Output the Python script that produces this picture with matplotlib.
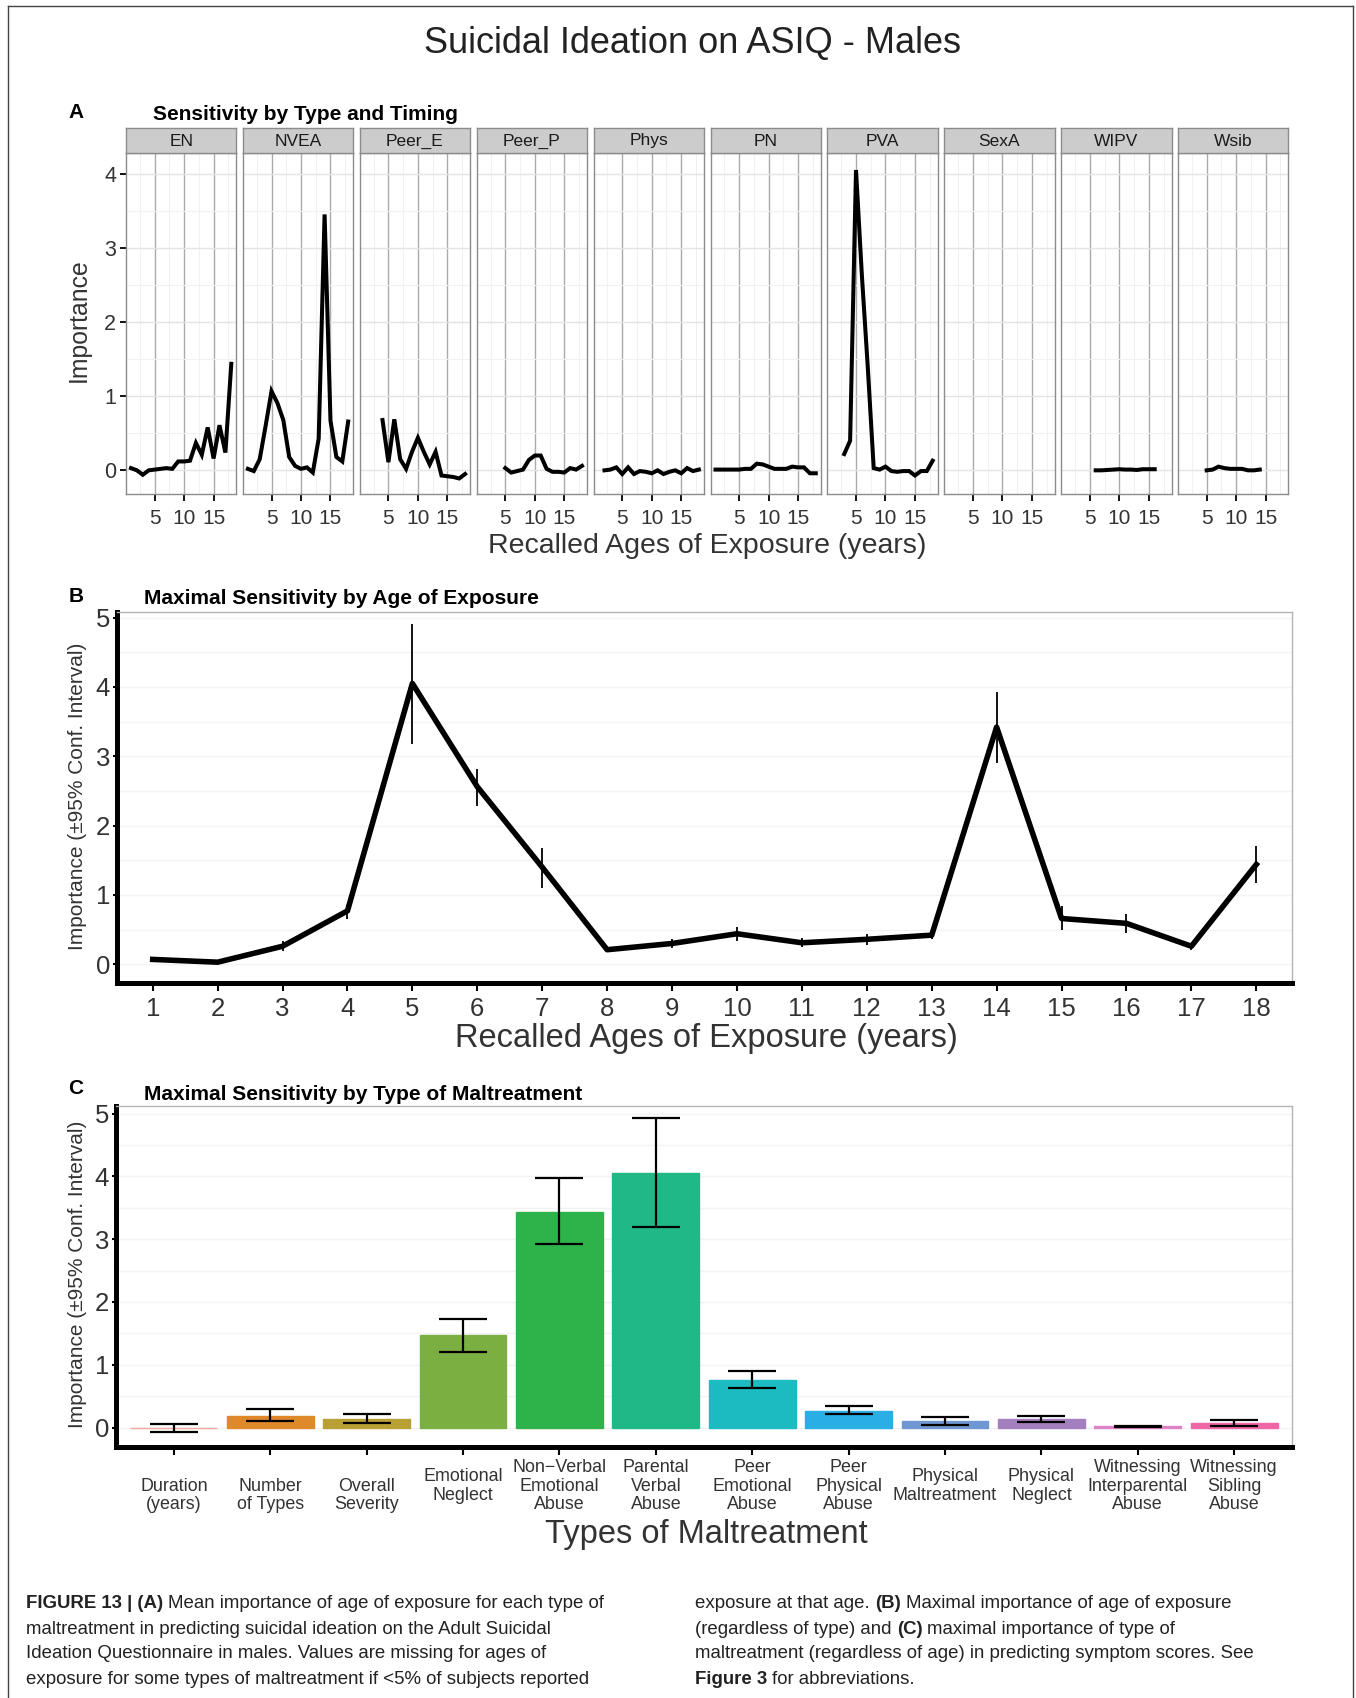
import numpy as np
import matplotlib
matplotlib.use("Agg")
import matplotlib.pyplot as plt
from matplotlib.lines import Line2D

plt.rcParams['font.family'] = ['Liberation Sans', 'DejaVu Sans']

W, H = 1356, 1698

# ---- panel A: mean importance by age, one facet per maltreatment type
facet_names = ['EN', 'NVEA', 'Peer_E', 'Peer_P', 'Phys', 'PN', 'PVA', 'SexA', 'WIPV', 'Wsib']
facet_first_age = [1, 1, 4, 5, 2, 1, 3, 0, 6, 5]
en_imp = [0.02, -0.01, -0.07, -0.01, 0.0, 0.01, 0.02, 0.01, 0.11, 0.11, 0.12, 0.36,
          0.20, 0.57, 0.15, 0.60, 0.23, 1.43]
nvea_imp = [0.01, -0.02, 0.14, 0.59, 1.06, 0.90, 0.67, 0.17, 0.05, 0.01, 0.03, -0.04,
            0.42, 3.45, 0.66, 0.17, 0.11, 0.65]
peer_e_imp = [0.67, 0.10, 0.68, 0.14, 0.01, 0.24, 0.43, 0.24, 0.07, 0.24, -0.08, -0.09,
              -0.10, -0.12, -0.06]
peer_p_imp = [0.02, -0.04, -0.02, 0.0, 0.13, 0.19, 0.19, 0.01, -0.03, -0.03, -0.04, 0.02,
              0.0, 0.05]
phys_imp = [-0.01, 0.0, 0.03, -0.06, 0.03, -0.06, -0.02, -0.03, -0.05, -0.01, -0.06,
            -0.03, -0.01, -0.05, 0.02, -0.02, 0.0]
pn_imp = [0.0, 0.0, 0.0, 0.0, 0.0, 0.01, 0.01, 0.08, 0.07, 0.04, 0.01, 0.01, 0.01, 0.04,
          0.03, 0.03, -0.05, -0.05]
pva_imp = [0.21, 0.39, 4.05, 2.62, 1.38, 0.02, 0.0, 0.04, -0.02, -0.03, -0.02, -0.02,
           -0.08, -0.02, -0.02, 0.12]
sexa_imp = []
wipv_imp = [-0.01, -0.01, -0.005, 0.0, 0.005, 0.0, 0.0, -0.005, 0.005, 0.005, 0.005]
wsib_imp = [-0.01, 0.0, 0.04, 0.02, 0.01, 0.01, 0.01, -0.01, -0.01, 0.0]

# ---- panel B: maximal importance by age
ages = np.arange(1, 19)
age_max = np.array([0.07, 0.03, 0.26, 0.77, 4.05, 2.56, 1.40, 0.21, 0.30, 0.44, 0.31,
                    0.36, 0.42, 3.42, 0.66, 0.59, 0.26, 1.44])
age_lo = np.array([0.05, 0.01, 0.19, 0.66, 3.17, 2.28, 1.10, 0.17, 0.24, 0.34, 0.25,
                   0.28, 0.36, 2.90, 0.50, 0.45, 0.21, 1.17])
age_hi = np.array([0.09, 0.05, 0.33, 0.86, 4.90, 2.82, 1.68, 0.26, 0.37, 0.54, 0.38,
                   0.43, 0.48, 3.92, 0.84, 0.73, 0.31, 1.71])

# ---- panel C: maximal importance by type
type_labels = ['\nDuration\n(years)', '\nNumber\nof Types', '\nOverall\nSeverity',
               'Emotional\nNeglect', 'Non\u2212Verbal\nEmotional\nAbuse',
               'Parental\nVerbal\nAbuse', 'Peer\nEmotional\nAbuse', 'Peer\nPhysical\nAbuse',
               'Physical\nMaltreatment', 'Physical\nNeglect',
               'Witnessing\nInterparental\nAbuse', 'Witnessing\nSibling\nAbuse']
type_max = np.array([-0.005, 0.18, 0.14, 1.47, 3.44, 4.06, 0.76, 0.27, 0.10, 0.13, 0.02, 0.075])
type_lo = np.array([-0.065, 0.10, 0.075, 1.20, 2.92, 3.19, 0.63, 0.21, 0.04, 0.09, 0.01, 0.03])
type_hi = np.array([0.05, 0.29, 0.22, 1.73, 3.97, 4.93, 0.90, 0.35, 0.17, 0.18, 0.03, 0.12])
type_colors = ['#F4A6A0', '#E0892B', '#B9A034', '#7CAF42', '#2DB34A', '#21B887',
               '#1CBAC1', '#29AFE3', '#6F97D1', '#A37FC0', '#DC84C6', '#EF66A6']

TXT = '#333333'


def box(l, t, r, b):
    return [l / W, 1 - b / H, (r - l) / W, (b - t) / H]


def ftext(x, y, s, **kw):
    return fig.text(x / W, 1 - y / H, s, **kw)


fig = plt.figure(figsize=(W / 100, H / 100), dpi=100)

# outer frame
for xs, ys in [([8, 8], [6, H]), ([8, 1353], [6, 6]), ([1353, 1353], [6, H])]:
    fig.add_artist(Line2D([x / W for x in xs], [1 - y / H for y in ys],
                          color='#444444', lw=1.0))

ftext(693, 43, 'Suicidal Ideation on ASIQ - Males', fontsize=26, color='#222222',
      ha='center', va='center')

# ================= panel A =================
ftext(76, 112, 'A', fontsize=15, fontweight='bold', ha='center', va='center')
ftext(153, 115, 'Sensitivity by Type and Timing', fontsize=15, fontweight='bold',
      ha='left', va='center')

facet_values = [en_imp, nvea_imp, peer_e_imp, peer_p_imp, phys_imp, pn_imp, pva_imp,
                sexa_imp, wipv_imp, wsib_imp]
pw, gap = 110.3, 6.6
for i, name in enumerate(facet_names):
    l = 126 + i * (pw + gap)
    ax = fig.add_axes(box(l, 153, l + pw, 494))
    ax.set_xlim(0.15, 18.85)
    ax.set_ylim(-0.33, 4.28)
    ax.set_xticks([5, 10, 15])
    ax.set_xticks([2.5, 7.5, 12.5, 17.5], minor=True)
    ax.set_yticks([0, 1, 2, 3, 4])
    ax.set_yticks([0.5, 1.5, 2.5, 3.5], minor=True)
    ax.grid(which='major', axis='x', color='#ababab', lw=1.0)
    ax.grid(which='major', axis='y', color='#e4e4e4', lw=1.0)
    ax.grid(which='minor', color='#f1f1f1', lw=0.8)
    ax.set_axisbelow(True)
    ax.tick_params(which='minor', length=0)
    ax.tick_params(axis='x', length=5, width=1.3, color='black', labelsize=15,
                   labelcolor=TXT, pad=6)
    ax.tick_params(axis='y', length=4 if i == 0 else 0, width=1.3, color='black',
                   labelsize=15.5, labelcolor=TXT, labelleft=(i == 0), pad=3)
    for sp in ax.spines.values():
        sp.set_color('#8c8c8c')
        sp.set_linewidth(1.0)
    vals = facet_values[i]
    if len(vals):
        xs = np.arange(facet_first_age[i], facet_first_age[i] + len(vals))
        ax.plot(xs, vals, color='black', lw=2.9, solid_joinstyle='miter')

    st = fig.add_axes(box(l, 128, l + pw, 153))
    st.set_facecolor('#cccccc')
    st.set_xticks([])
    st.set_yticks([])
    for sp in st.spines.values():
        sp.set_color('#8c8c8c')
        sp.set_linewidth(1.0)
    st.text(0.5, 0.48, name, transform=st.transAxes, ha='center', va='center',
            fontsize=12.5, color='#1a1a1a')

ftext(79, 320, 'Importance', fontsize=17.8, color=TXT, rotation=90, ha='center', va='center')
ftext(707, 546, 'Recalled Ages of Exposure (years)', fontsize=20.5, color=TXT,
      ha='center', va='center')

# ================= panel B =================
ftext(76, 597, 'B', fontsize=15, fontweight='bold', ha='center', va='center')
ftext(144, 598, 'Maximal Sensitivity by Age of Exposure', fontsize=15, fontweight='bold',
      ha='left', va='center')

axb = fig.add_axes(box(117, 612, 1292, 983))
axb.set_xlim(0.45, 18.55)
axb.set_ylim(-0.27, 5.08)
axb.set_yticks(range(6))
axb.set_yticks(np.arange(0.5, 5, 1.0), minor=True)
axb.grid(which='both', axis='y', color='#f3f3f3', lw=1.0)
axb.set_axisbelow(True)
axb.errorbar(ages, age_max, yerr=[age_max - age_lo, age_hi - age_max], fmt='none',
             ecolor='black', elinewidth=1.3, capsize=0, zorder=3)
axb.plot(ages, age_max, color='black', lw=4.0, zorder=4)
axb.set_xticks(ages)
axb.set_xticklabels([str(a) for a in ages])
axb.tick_params(which='minor', length=0)
axb.tick_params(axis='x', length=6, width=1.5, color='black', labelsize=18.5,
                labelcolor=TXT, pad=4)
axb.tick_params(axis='y', length=3, width=1.5, color='black', labelsize=18.5,
                labelcolor=TXT, pad=2)
for s in ['left', 'bottom']:
    axb.spines[s].set_linewidth(3.6)
    axb.spines[s].set_color('black')
for s in ['top', 'right']:
    axb.spines[s].set_linewidth(1.0)
    axb.spines[s].set_color('#b5b5b5')
ftext(78, 796, 'Importance (\u00b195% Conf. Interval)', fontsize=15, color=TXT,
      rotation=90, ha='center', va='center')
ftext(706, 1038, 'Recalled Ages of Exposure (years)', fontsize=23.5, color=TXT,
      ha='center', va='center')

# ================= panel C =================
ftext(76, 1089, 'C', fontsize=15, fontweight='bold', ha='center', va='center')
ftext(144, 1094, 'Maximal Sensitivity by Type of Maltreatment', fontsize=15,
      fontweight='bold', ha='left', va='center')

axc = fig.add_axes(box(116, 1106, 1292, 1447))
xc = np.arange(len(type_labels))
axc.set_xlim(-0.6, 11.6)
axc.set_ylim(-0.31, 5.12)
axc.set_yticks(range(6))
axc.set_yticks(np.arange(0.5, 5, 1.0), minor=True)
axc.grid(which='both', axis='y', color='#f3f3f3', lw=1.0)
axc.set_axisbelow(True)
axc.bar(xc, type_max, width=0.9, color=type_colors, edgecolor=type_colors, lw=1.0, zorder=2)
axc.errorbar(xc, type_max, yerr=[type_max - type_lo, type_hi - type_max], fmt='none',
             ecolor='black', elinewidth=1.6, capsize=17, capthick=1.6, zorder=3)
axc.set_xticks(xc)
axc.set_xticklabels([])
for x, lab in zip(xc, type_labels):
    axc.text(x, -0.115, lab, transform=axc.get_xaxis_transform(), ha='center',
             va='center', fontsize=12.9, color=TXT, linespacing=1.12)
axc.tick_params(which='minor', length=0)
axc.tick_params(axis='x', length=6, width=1.5, color='black')
axc.tick_params(axis='y', length=3, width=1.5, color='black', labelsize=18.5,
                labelcolor=TXT, pad=2)
for s in ['left', 'bottom']:
    axc.spines[s].set_linewidth(3.6)
    axc.spines[s].set_color('black')
for s in ['top', 'right']:
    axc.spines[s].set_linewidth(1.0)
    axc.spines[s].set_color('#b5b5b5')
ftext(78, 1274, 'Importance (\u00b195% Conf. Interval)', fontsize=15, color=TXT,
      rotation=90, ha='center', va='center')
ftext(706, 1535, 'Types of Maltreatment', fontsize=23.5, color=TXT,
      ha='center', va='center')

# ================= caption =================
caption_left = [
    [('FIGURE 13 | (A)', True), ('Mean importance of age of exposure for each type of', False)],
    [('maltreatment in predicting suicidal ideation on the Adult Suicidal', False)],
    [('Ideation Questionnaire in males. Values are missing for ages of', False)],
    [('exposure for some types of maltreatment if <5% of subjects reported', False)],
]
caption_right = [
    [('exposure at that age.', False), ('(B)', True), ('Maximal importance of age of exposure', False)],
    [('(regardless of type) and', False), ('(C)', True), ('maximal importance of type of', False)],
    [('maltreatment (regardless of age) in predicting symptom scores. See', False)],
    [('Figure 3', True), ('for abbreviations.', False)],
]
cap_size = 13.4
renderer = fig.canvas.get_renderer()
space = 0.278 * cap_size * 100 / 72


def rich_line(x, y, parts):
    for txt, bold in parts:
        t = ftext(x, y, txt, fontsize=cap_size, fontweight='bold' if bold else 'normal',
                  color='#222222', ha='left', va='center')
        x += t.get_window_extent(renderer).width + space


line_y = [1603, 1629, 1654, 1680]
for y, parts in zip(line_y, caption_left):
    rich_line(26, y, parts)
for y, parts in zip(line_y, caption_right):
    rich_line(695, y, parts)

fig.savefig('out.png', dpi=100)
